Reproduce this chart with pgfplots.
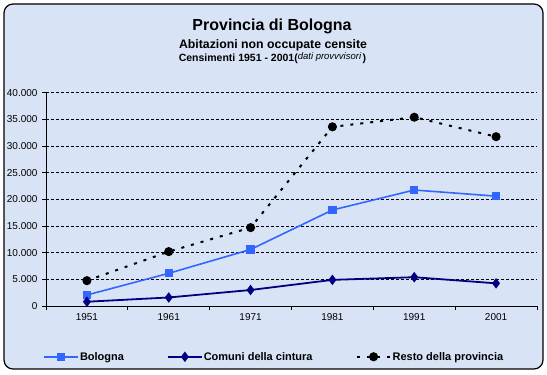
\documentclass[border=0pt]{standalone}
\usepackage{pgfplots}
\pgfplotsset{compat=1.18}
\usepackage{fontspec}
\setmainfont{Liberation Sans}
\definecolor{bg}{RGB}{216,228,246}
\definecolor{bolo}{RGB}{51,102,255}
\definecolor{navyc}{RGB}{0,0,128}
\begin{document}
\begin{tikzpicture}[x=1pt,y=1pt]
\useasboundingbox (0,0) rectangle (547,375);
\fill[white] (0,0) rectangle (547,375);
\draw[line width=1.2pt, fill=bg, rounded corners=9pt] (4,6) rectangle (543,371);
\node[anchor=base, font=\fontsize{16}{18}\selectfont\bfseries] at (272,344) {Provincia di Bologna};
\node[anchor=base, font=\fontsize{12.3}{14}\selectfont\bfseries] at (273,326.3) {Abitazioni non occupate censite};
\node[anchor=base, font=\fontsize{10.5}{12}\selectfont\bfseries] at (272.5,313.5) {Censimenti 1951 - 2001(\raisebox{1.5pt}{\fontsize{9.5}{10}\selectfont\mdseries\itshape dati provvvisori\,})};
\begin{axis}[
  at={(46pt,69pt)}, anchor=south west,
  scale only axis, width=491pt, height=213.3pt,
  xmin=-0.5, xmax=5.5, ymin=0, ymax=40000,
  xtick={-0.5,0.5,1.5,2.5,3.5,4.5,5.5},
  x tick label as interval=true,
  xticklabels={1951,1961,1971,1981,1991,2001},
  ytick={0,5000,...,40000},
  axis x line*=bottom, axis y line*=left,
  axis line style={line width=0.8pt},
  tick align=outside, major tick length=4pt,
  tick style={black, line width=0.8pt},
  ymajorgrids, grid style={black, line width=0.6pt, dash pattern=on 3pt off 2pt},
  /pgf/number format/.cd, 1000 sep={.}, assume math mode=true, /pgfplots/.cd,
  scaled y ticks=false,
  tick label style={font=\fontsize{10}{11}\selectfont},
  yticklabel style={xshift=-1pt},
  legend columns=3,
  legend style={at={(0.464,-0.238)}, anchor=center, draw=none, fill=none,
    font=\fontsize{11}{12}\selectfont\bfseries,
    nodes={inner xsep=1pt},
    /tikz/every even column/.append style={column sep=42pt},
    inner sep=0pt},
  legend image code/.code={\draw[mark repeat=2,mark phase=2,#1] plot coordinates {(0pt,0pt) (17pt,0pt) (34pt,0pt)};},
]
\addplot[color=bolo, line width=1.6pt, mark=square*, mark size=3.3pt, mark options={solid}]
  coordinates {(0,2060) (1,6130) (2,10600) (3,18000) (4,21750) (5,20600)};
\addlegendentry{Bologna}
\addplot[color=navyc, line width=1.8pt, mark=diamond*, mark size=3.8pt, mark options={solid}]
  coordinates {(0,800) (1,1600) (2,3000) (3,4900) (4,5400) (5,4250)};
\addlegendentry{Comuni della cintura}
\addplot[color=black, line width=2pt, dash pattern=on 3pt off 7pt, mark=*, mark size=3.5pt, mark options={solid}]
  coordinates {(0,4750) (1,10200) (2,14700) (3,33600) (4,35400) (5,31750)};
\addlegendentry{Resto della provincia}
\end{axis}
\end{tikzpicture}
\end{document}
